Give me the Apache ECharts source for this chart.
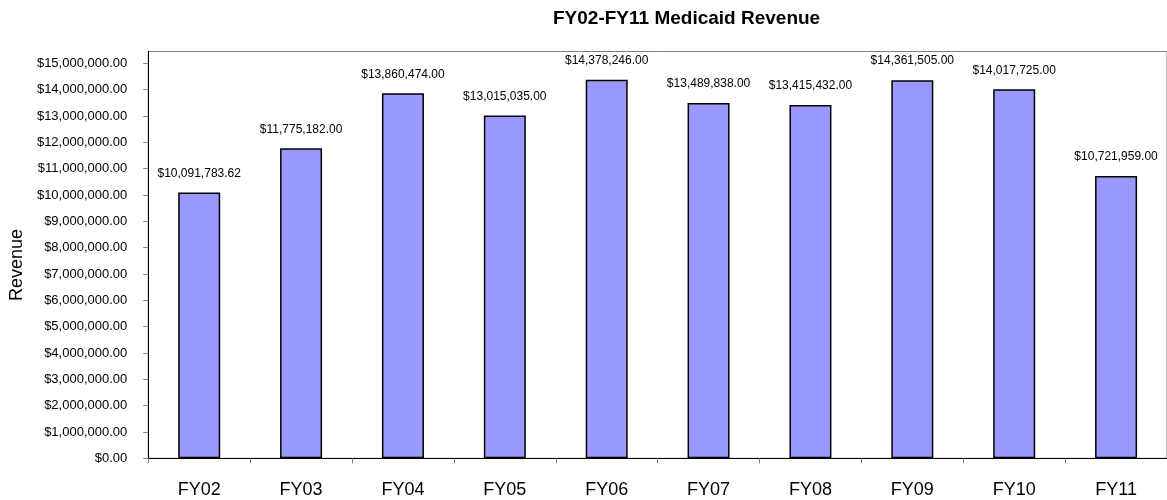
<!DOCTYPE html>
<html>
<head>
<meta charset="utf-8">
<script src="https://cdn.jsdelivr.net/npm/echarts@6/dist/echarts.min.js"></script>
<style>html,body{margin:0;padding:0;background:#fff;}#c{width:1167px;height:500px;}</style>
</head>
<body>
<div id="c"></div>
<script>
const titleText = 'FY02-FY11 Medicaid Revenue';
const categories = ['FY02','FY03','FY04','FY05','FY06','FY07','FY08','FY09','FY10','FY11'];
const revenue = [10091783.62, 11775182.00, 13860474.00, 13015035.00, 14378246.00, 13489838.00, 13415432.00, 14361505.00, 14017725.00, 10721959.00];
const yTicks = [0,1000000,2000000,3000000,4000000,5000000,6000000,7000000,8000000,9000000,10000000,11000000,12000000,13000000,14000000,15000000];
const yAxisName = 'Revenue';

function money(v){ return '$' + Number(v).toLocaleString('en-US',{minimumFractionDigits:2, maximumFractionDigits:2}); }

const chart = echarts.init(document.getElementById('c'));
chart.setOption({
  animation: false,
  backgroundColor: '#ffffff',
  title: {
    text: titleText,
    left: 548, top: 4, textAlign: 'left',
    textStyle: { fontFamily: 'Liberation Sans, Arial, sans-serif', fontSize: 19, fontWeight: 'bold', color: '#000' }
  },
  grid: { left: 144, top: 51.5, right: -2, bottom: 41.7, show: true, borderColor: '#808080', borderWidth: 1, backgroundColor: 'transparent' },
  xAxis: {
    type: 'category', data: categories, boundaryGap: true,
    axisLine: { lineStyle: { color: '#000', width: 1 } },
    axisTick: { show: true, length: 5, alignWithLabel: false, lineStyle: { color: '#808080' } },
    axisLabel: { margin: 23, fontSize: 18, color: '#000', fontFamily: 'Liberation Sans, Arial, sans-serif' },
    splitLine: { show: false }
  },
  yAxis: {
    type: 'value', min: 0, max: 15450000, interval: 1000000,
    name: yAxisName, nameLocation: 'middle', nameRotate: 90, nameGap: 113,
    nameTextStyle: { fontSize: 18, color: '#000', fontFamily: 'Liberation Sans, Arial, sans-serif', padding: [0,20,0,0] },
    axisLine: { show: true, lineStyle: { color: '#000', width: 1 } },
    axisTick: { show: true, length: 5, lineStyle: { color: '#808080' }, customValues: yTicks },
    axisLabel: { margin: 21, fontSize: 13, color: '#000', fontFamily: 'Liberation Sans, Arial, sans-serif', customValues: yTicks, formatter: money },
    splitLine: { show: false }
  },
  series: [{
    type: 'bar', data: revenue, barWidth: 42,
    itemStyle: { color: '#9999FF', borderColor: '#000', borderWidth: 1.5 },
    label: { show: true, position: 'top', distance: 13, fontSize: 12, color: '#000', fontFamily: 'Liberation Sans, Arial, sans-serif', formatter: p => money(p.value) }
  }]
});
</script>
</body>
</html>
